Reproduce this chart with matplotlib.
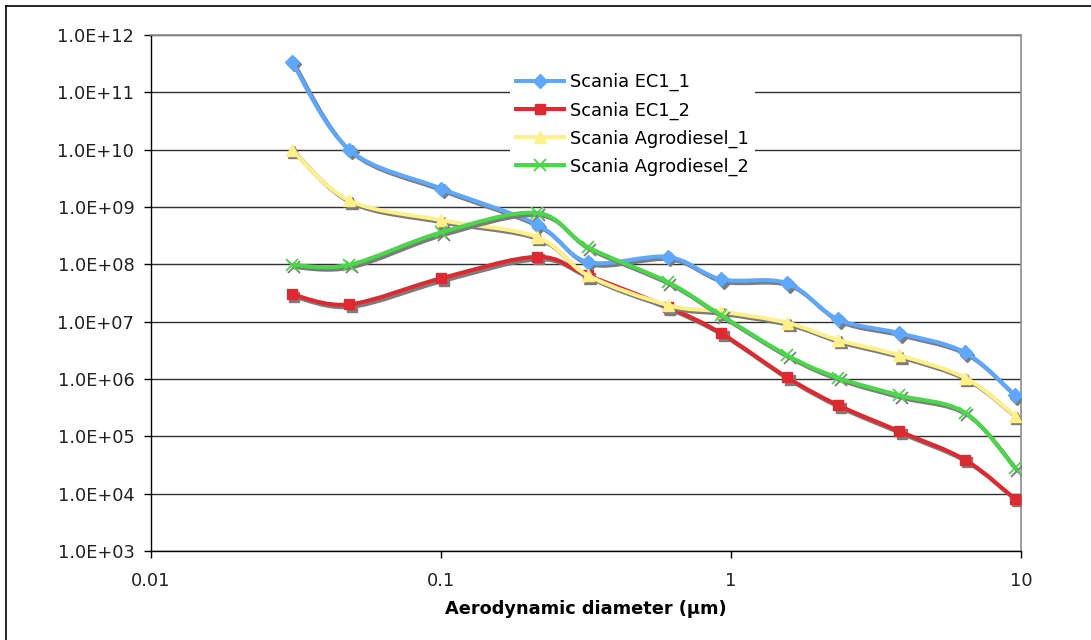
import numpy as np
import matplotlib
matplotlib.use("Agg")
import matplotlib.pyplot as plt
from matplotlib.path import Path
from matplotlib.patches import PathPatch
from matplotlib.lines import Line2D
from matplotlib.transforms import offset_copy
from matplotlib.ticker import FixedLocator, FuncFormatter, NullLocator

# --- data (aerodynamic diameter in um, counts) ---
diam = [0.0306, 0.0482, 0.100, 0.214, 0.321, 0.606, 0.924, 1.56, 2.34, 3.80, 6.41, 9.53]
ec1_1 = [3.4e11, 1.0e10, 2.1e9, 5.0e8, 1.1e8, 1.35e8, 5.5e7, 4.7e7, 1.1e7, 6.3e6, 2.9e6, 5.2e5]
ec1_2 = [3.0e7, 2.0e7, 5.7e7, 1.35e8, 6.4e7, 1.8e7, 6.3e6, 1.07e6, 3.5e5, 1.23e5, 3.9e4, 8.1e3]
agro_1 = [1.0e10, 1.3e9, 5.9e8, 3.0e8, 6.4e7, 1.95e7, 1.5e7, 9.6e6, 4.8e6, 2.6e6, 1.05e6, 2.3e5]
agro_2 = [9.8e7, 9.8e7, 3.6e8, 7.9e8, 2.0e8, 4.9e7, 1.3e7, 2.6e6, 1.05e6, 5.2e5, 2.6e5, 2.8e4]

labels = ["Scania EC1_1", "Scania EC1_2", "Scania Agrodiesel_1", "Scania Agrodiesel_2"]
colors = ["#5FA8FF", "#DD2A30", "#FFF08A", "#4CD64C"]
markers = ["D", "s", "^", "x"]
msizes = [7.0, 7.4, 9.0, 9.0]

xticks = [0.01, 0.1, 1, 10]
xticklabels = ["0.01", "0.1", "1", "10"]
yexp = list(range(3, 13))

W, H = 1091, 640
FS = 12.8
LW = 2.9
SHADOW = "#7c7c7c"


def smooth_path(xs, ys):
    """Excel-style smoothed line: Catmull-Rom as cubic Beziers in log space."""
    P = np.column_stack([np.log10(xs), np.log10(ys)])
    Pe = np.vstack([P[0], P, P[-1]])
    verts, codes = [P[0]], [Path.MOVETO]
    for i in range(len(P) - 1):
        p0, p1, p2, p3 = Pe[i], Pe[i + 1], Pe[i + 2], Pe[i + 3]
        verts += [p1 + (p2 - p0) / 6, p2 - (p3 - p1) / 6, p2]
        codes += [Path.CURVE4] * 3
    return Path(10 ** np.array(verts), codes)


fig = plt.figure(figsize=(W / 100, H / 100), dpi=100)
ax = fig.add_axes([151 / W, 1 - 551 / H, (1021 - 151) / W, (551 - 35) / H])
ax.set_xscale("log")
ax.set_yscale("log")

shadow = offset_copy(ax.transData, fig=fig, x=2.5, y=-2.5, units="dots")

for i, ys in enumerate([ec1_1, ec1_2, agro_1, agro_2]):
    z = 3 + i
    path = smooth_path(diam, ys)
    mew = 1.3 if markers[i] == "x" else 1.0
    # shadow
    ax.add_patch(PathPatch(path, fill=False, ec=SHADOW, lw=LW, transform=shadow,
                           zorder=z, capstyle="round", joinstyle="round"))
    ax.plot(diam, ys, ls="none", marker=markers[i], ms=msizes[i], color=SHADOW,
            mew=mew, transform=shadow, zorder=z)
    # series
    ax.add_patch(PathPatch(path, fill=False, ec=colors[i], lw=LW, zorder=z + 0.1,
                           capstyle="round", joinstyle="round"))
    ax.plot(diam, ys, ls="none", marker=markers[i], ms=msizes[i], color=colors[i],
            mew=mew, zorder=z + 0.2)

ax.set_xlim(0.01, 10)
ax.set_ylim(1e3, 1e12)
ax.xaxis.set_major_locator(FixedLocator(xticks))
ax.xaxis.set_major_formatter(FuncFormatter(lambda v, p: xticklabels[xticks.index(v)] if v in xticks else ""))
ax.xaxis.set_minor_locator(NullLocator())
ax.yaxis.set_major_locator(FixedLocator([10.0 ** e for e in yexp]))
ax.yaxis.set_major_formatter(FuncFormatter(lambda v, p: "1.0E+%02d" % round(np.log10(v))))
ax.yaxis.set_minor_locator(NullLocator())
ax.tick_params(axis="both", direction="out", length=5, width=1, color="black",
               labelsize=FS, labelcolor="#222222")
ax.tick_params(axis="y", pad=7)
ax.tick_params(axis="x", pad=10)

ax.yaxis.grid(True, color="#303030", lw=1.0)
ax.set_axisbelow(True)
for s in ["left", "bottom"]:
    ax.spines[s].set_color("black")
    ax.spines[s].set_linewidth(1.0)
for s in ["right", "top"]:
    ax.spines[s].set_color("#8c8c8c")
    ax.spines[s].set_linewidth(1.2)

ax.set_xlabel("Aerodynamic diameter (\u00b5m)", fontsize=FS, fontweight="bold", labelpad=7)

handles = [Line2D([], [], color=c, lw=LW, marker=m, ms=s, mec=c,
                  mew=(1.3 if m == "x" else 1.0))
           for c, m, s in zip(colors, markers, msizes)]
leg = ax.legend(handles, labels, loc="upper left",
                bbox_to_anchor=(510 / W, 1 - 67 / H), bbox_transform=fig.transFigure,
                fontsize=FS, frameon=True, fancybox=False, edgecolor="none",
                facecolor="white", framealpha=1.0, handlelength=2.7,
                handletextpad=0.3, labelspacing=0.55, borderpad=0.35, borderaxespad=0)
leg.set_zorder(10)

# outer chart frame (only left and top edges are in the picture)
fig.add_artist(Line2D([6 / W, 6 / W], [0, 1 - 6 / H], transform=fig.transFigure,
                      color="black", lw=1.2))
fig.add_artist(Line2D([6 / W, 1], [1 - 6 / H, 1 - 6 / H], transform=fig.transFigure,
                      color="black", lw=1.2))

fig.savefig("out.png", dpi=100)
